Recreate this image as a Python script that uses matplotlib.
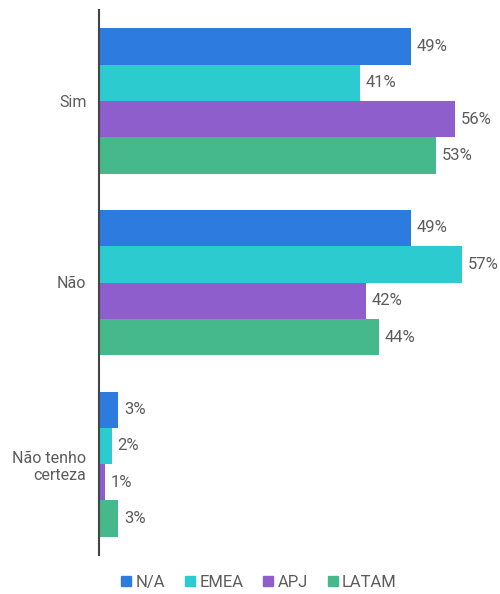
import matplotlib.pyplot as plt
import matplotlib.patches as mpatches
import numpy as np

plt.rcParams['font.family'] = ['Roboto', 'DejaVu Sans']

categories = ['Sim', 'Não', 'Não tenho\ncerteza']
regions = ['N/A', 'EMEA', 'APJ', 'LATAM']
values = {
    'N/A': [49, 49, 3],
    'EMEA': [41, 57, 2],
    'APJ': [56, 42, 1],
    'LATAM': [53, 44, 3],
}
colors = ['#2e7be0', '#2bcbd0', '#8e5ecc', '#45b98c']

text_color = '#5c5c5c'

fig = plt.figure(figsize=(5.0, 5.94), dpi=100)
ax = fig.add_axes([99 / 500, 39 / 594, 401 / 500, 545 / 594])

y = np.arange(len(categories))
bar_h = 0.2
for i, (reg, col) in enumerate(zip(regions, colors)):
    pos = y - 0.3 + i * bar_h
    bars = ax.barh(pos, values[reg], height=bar_h, color=col, edgecolor='none')
    for b, v in zip(bars, values[reg]):
        ax.text(b.get_width() + 0.9, b.get_y() + b.get_height() / 2, f'{v}%',
                va='center', ha='left', fontsize=12, color=text_color)

ax.set_ylim(2.5, -0.5)
ax.set_xlim(0, 63.0)
ax.set_yticks(y)
ax.set_yticklabels(categories, fontsize=11.5, color=text_color, ha='right')
ax.tick_params(axis='y', length=0, pad=9)
ax.set_xticks([])
for s in ['top', 'right', 'bottom']:
    ax.spines[s].set_visible(False)
ax.spines['left'].set_color('#444444')
ax.spines['left'].set_linewidth(1.5)

handles = [mpatches.Patch(color=c, label=r) for r, c in zip(regions, colors)]
fig.legend(handles=handles, loc='lower center', bbox_to_anchor=(0.518, -0.018),
           ncol=4, frameon=False, handlelength=0.6, handleheight=0.6,
           handletextpad=0.25, columnspacing=1.2, labelcolor=text_color,
           prop={'size': 12})

fig.savefig('out.png', dpi=100)
